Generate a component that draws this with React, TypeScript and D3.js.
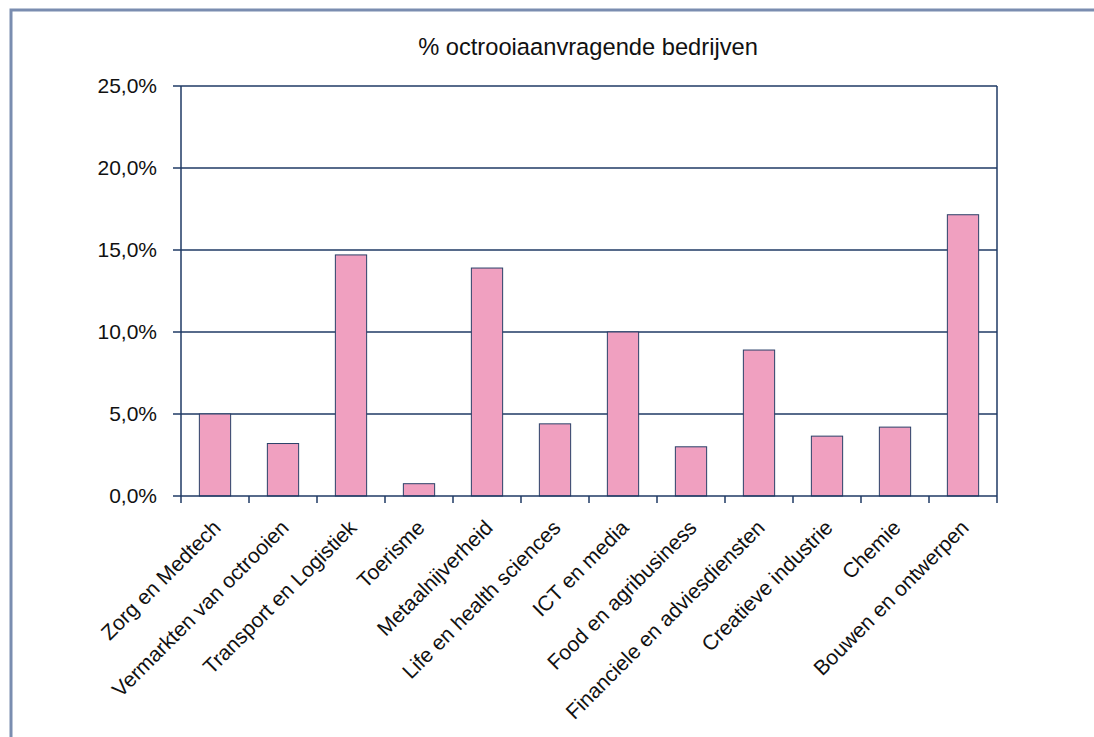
import React from "react";
import * as d3 from "d3";

const categories = [
  "Zorg en Medtech",
  "Vermarkten van octrooien",
  "Transport en Logistiek",
  "Toerisme",
  "Metaalnijverheid",
  "Life en health sciences",
  "ICT en media",
  "Food en agribusiness",
  "Financiele en adviesdiensten",
  "Creatieve industrie",
  "Chemie",
  "Bouwen en ontwerpen",
];
const values = [5.0, 3.2, 14.7, 0.75, 13.9, 4.4, 10.0, 3.0, 8.9, 3.65, 4.2, 17.15];
const yTicks = [0, 5, 10, 15, 20, 25];
const title = "% octrooiaanvragende bedrijven";

const W = 1094, H = 737;
const left = 181, right = 997, top = 86, bottom = 496;
const font = "'Liberation Sans', Arial, sans-serif";
const gridColor = "#1F3A64";

export default function App() {
  const x = d3.scaleBand<string>().domain(categories).range([left, right]).paddingInner(0.54).paddingOuter(0.27);
  const xb = d3.scaleBand<string>().domain(categories).range([left, right]);
  const y = d3.scaleLinear().domain([0, 25]).range([bottom, top]);
  const fmt = (v: number) => v.toFixed(1).replace(".", ",") + "%";
  return (
    <svg width={W} height={H} style={{ position: "absolute", left: 0, top: 0, background: "#fff" }}>
      <rect x={11} y={10} width={1200} height={900} fill="none" stroke="#7A8DB0" strokeWidth={3} />
      <text x={588} y={55} textAnchor="middle" fontFamily={font} fontSize={23.7} fill="#111">{title}</text>
      {yTicks.map((t) => (
        <g key={t}>
          {t > 0 && <line x1={left} x2={right} y1={y(t)} y2={y(t)} stroke={gridColor} strokeWidth={1.5} />}
          <line x1={left - 8} x2={left} y1={y(t)} y2={y(t)} stroke={gridColor} strokeWidth={1.5} />
          <text x={left - 24} y={y(t) + 7} textAnchor="end" fontFamily={font} fontSize={21} fill="#111">{fmt(t)}</text>
        </g>
      ))}
      <line x1={right} x2={right} y1={top} y2={bottom} stroke={gridColor} strokeWidth={1.5} />
      {categories.map((c, i) => (
        <rect key={c} x={x(c)!} y={y(values[i])} width={x.bandwidth()} height={bottom - y(values[i])}
          fill="#F0A0C0" stroke="#2A4068" strokeWidth={1} />
      ))}
      <line x1={left} x2={left} y1={top} y2={bottom + 7} stroke={gridColor} strokeWidth={1.5} />
      <line x1={left} x2={right} y1={bottom} y2={bottom} stroke={gridColor} strokeWidth={1.5} />
      {categories.map((c) => (
        <line key={c} x1={xb(c)! + xb.bandwidth()} x2={xb(c)! + xb.bandwidth()} y1={bottom} y2={bottom + 7} stroke={gridColor} strokeWidth={1.5} />
      ))}
      {categories.map((c) => {
        const cx = xb(c)! + xb.bandwidth() / 2 + 7;
        const cy = bottom + 33;
        return (
          <text key={c} x={cx} y={cy} textAnchor="end" fontFamily={font} fontSize={21} fill="#111"
            transform={`rotate(-45 ${cx} ${cy})`}>{c}</text>
        );
      })}
    </svg>
  );
}
